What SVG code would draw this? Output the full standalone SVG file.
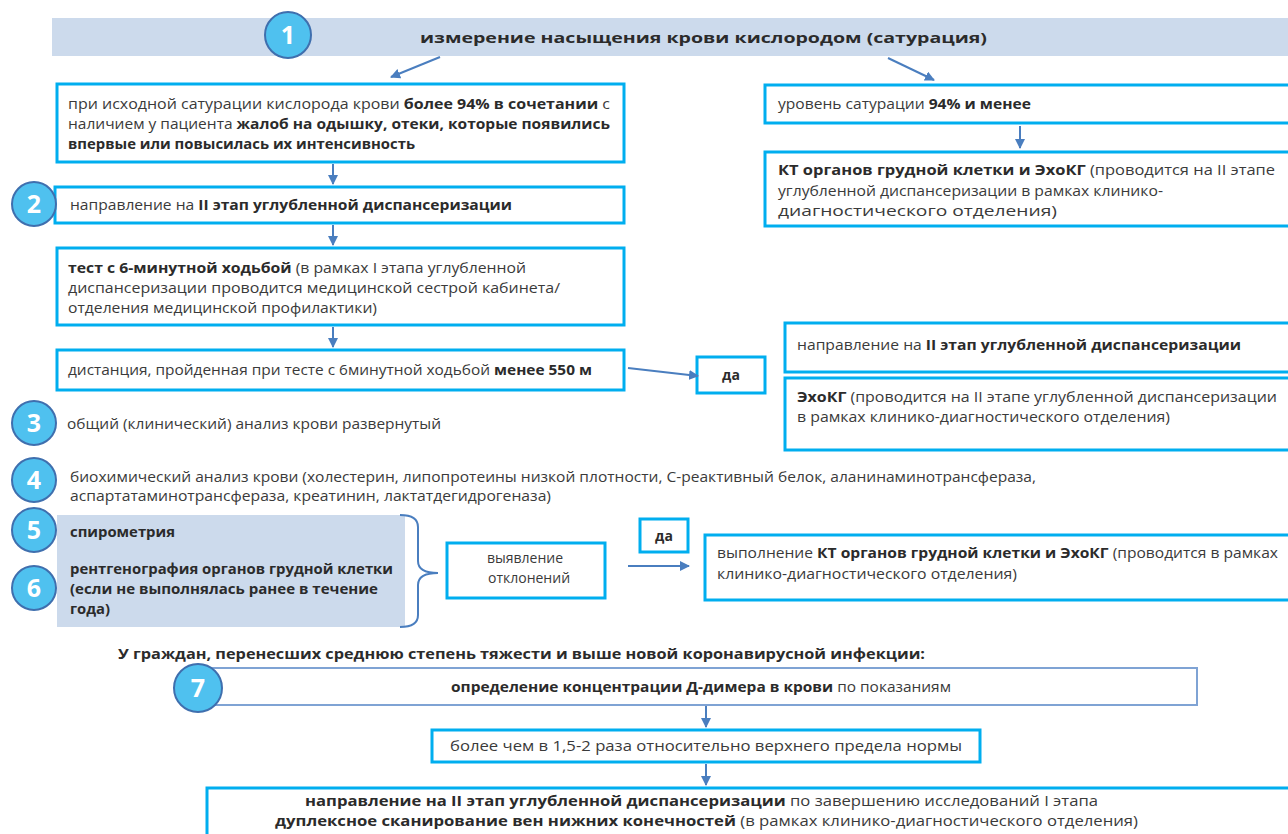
<svg xmlns="http://www.w3.org/2000/svg" width="1288" height="834" viewBox="0 0 1288 834">
<style>
text{font-family:"Open Sans","Noto Sans","Liberation Sans",sans-serif;font-size:14px;fill:#3a3a3a}
.b{font-weight:700;fill:#2b2b2b}
.box{fill:#fff;stroke:#00aeef;stroke-width:3}
.box7{fill:#fff;stroke:#7fa3d4;stroke-width:2}
.shade{fill:#ccdaec}
.circ{fill:#4fc1ef;stroke:#3f6fae;stroke-width:2}
.num{font-family:"Open Sans","Liberation Sans",sans-serif;font-weight:700;font-size:25px;fill:#fff;text-anchor:middle}
.con{stroke:#4a7ebf;stroke-width:2;fill:none}
.c{text-anchor:middle}
</style>
<defs>
<marker id="ah" viewBox="0 0 10 10" refX="9" refY="5" markerWidth="5" markerHeight="5" orient="auto" markerUnits="strokeWidth">
<path d="M0,0 L10,5 L0,10 z" fill="#4a7ebf"/>
</marker>
</defs>

<g id="header">
<rect class="shade" x="52" y="18" width="1236" height="38"/>
<text class="b" x="420" y="43" font-size="18" textLength="567" lengthAdjust="spacingAndGlyphs">измерение насыщения крови кислородом (сатурация)</text>
</g>
<g id="n1"><circle class="circ" cx="288" cy="35" r="23"/><text class="num" x="288" y="44">1</text></g>

<g id="boxA">
<rect class="box" x="57" y="84" width="567" height="78"/>
<text x="68" y="109" textLength="542" lengthAdjust="spacingAndGlyphs">при исходной сатурации кислорода крови <tspan class="b">более 94% в сочетании</tspan> с</text>
<text x="68" y="129" textLength="542" lengthAdjust="spacingAndGlyphs">наличием у пациента <tspan class="b">жалоб на одышку, отеки, которые появились</tspan></text>
<text class="b" x="68" y="149" textLength="347" lengthAdjust="spacingAndGlyphs">впервые или повысилась их интенсивность</text>
</g>

<g id="box2">
<rect class="box" x="55" y="187" width="569" height="36"/>
<text x="70" y="210" textLength="442" lengthAdjust="spacingAndGlyphs">направление на <tspan class="b">II этап углубленной диспансеризации</tspan></text>
</g>
<g id="n2"><circle class="circ" cx="34" cy="204" r="22"/><text class="num" x="34" y="213">2</text></g>

<g id="boxTest">
<rect class="box" x="57" y="248" width="567" height="77"/>
<text x="68" y="273" textLength="458" lengthAdjust="spacingAndGlyphs"><tspan class="b">тест с 6-минутной ходьбой</tspan> (в рамках I этапа углубленной</text>
<text x="68" y="293" textLength="492" lengthAdjust="spacingAndGlyphs">диспансеризации проводится медицинской сестрой кабинета/</text>
<text x="68" y="313" textLength="309" lengthAdjust="spacingAndGlyphs">отделения медицинской профилактики)</text>
</g>

<g id="boxDist">
<rect class="box" x="57" y="350" width="567" height="40"/>
<text x="68" y="375" textLength="524" lengthAdjust="spacingAndGlyphs">дистанция, пройденная при тесте с 6минутной ходьбой <tspan class="b">менее 550 м</tspan></text>
</g>

<g id="da1">
<rect class="box" x="697" y="357" width="68" height="36"/>
<text class="b c" x="731" y="380">да</text>
</g>

<g id="boxSat">
<rect class="box" x="765" y="85" width="530" height="38"/>
<text x="778" y="109" textLength="253" lengthAdjust="spacingAndGlyphs">уровень сатурации <tspan class="b">94% и менее</tspan></text>
</g>

<g id="boxKT">
<rect class="box" x="765" y="152" width="530" height="74"/>
<text x="778" y="175" textLength="497" lengthAdjust="spacingAndGlyphs"><tspan class="b">КТ органов грудной клетки и ЭхоКГ</tspan> (проводится на II этапе</text>
<text x="778" y="196" textLength="385" lengthAdjust="spacingAndGlyphs">углубленной диспансеризации в рамках клинико-</text>
<text x="778" y="216" textLength="279" lengthAdjust="spacingAndGlyphs">диагностического отделения)</text>
</g>

<g id="boxNapr2">
<rect class="box" x="785" y="323" width="510" height="49"/>
<text x="797" y="350" textLength="444" lengthAdjust="spacingAndGlyphs">направление на <tspan class="b">II этап углубленной диспансеризации</tspan></text>
</g>

<g id="boxEcho">
<rect class="box" x="785" y="378" width="510" height="72"/>
<text x="797" y="402" textLength="480" lengthAdjust="spacingAndGlyphs"><tspan class="b">ЭхоКГ</tspan> (проводится на II этапе углубленной диспансеризации</text>
<text x="797" y="422" textLength="373" lengthAdjust="spacingAndGlyphs">в рамках клинико-диагностического отделения)</text>
</g>

<g id="n3"><circle class="circ" cx="34" cy="423" r="22"/><text class="num" x="34" y="432">3</text>
<text x="67" y="429" textLength="374" lengthAdjust="spacingAndGlyphs">общий (клинический) анализ крови развернутый</text></g>

<g id="n4"><circle class="circ" cx="34" cy="480" r="22"/><text class="num" x="34" y="489">4</text>
<text x="70" y="482" textLength="966" lengthAdjust="spacingAndGlyphs">биохимический анализ крови (холестерин, липопротеины низкой плотности, С-реактивный белок, аланинаминотрансфераза,</text>
<text x="70" y="501" textLength="481" lengthAdjust="spacingAndGlyphs">аспартатаминотрансфераза, креатинин, лактатдегидрогеназа)</text></g>

<g id="group56">
<rect class="shade" x="57" y="515" width="348" height="112"/>
<text class="b" x="70" y="537" textLength="105" lengthAdjust="spacingAndGlyphs">спирометрия</text>
<text class="b" x="70" y="574" textLength="323" lengthAdjust="spacingAndGlyphs">рентгенография органов грудной клетки</text>
<text class="b" x="70" y="594" textLength="308" lengthAdjust="spacingAndGlyphs">(если не выполнялась ранее в течение</text>
<text class="b" x="70" y="614" textLength="40" lengthAdjust="spacingAndGlyphs">года)</text>
</g>
<g id="n5"><circle class="circ" cx="34" cy="530" r="22"/><text class="num" x="34" y="539">5</text></g>
<g id="n6"><circle class="circ" cx="34" cy="588" r="22"/><text class="num" x="34" y="597">6</text></g>

<g id="boxDev">
<rect class="box" x="447" y="543" width="158" height="55"/>
<text class="c" x="525" y="563">выявление</text>
<text class="c" x="529" y="583">отклонений</text>
</g>

<g id="da2">
<rect class="box" x="640" y="519" width="48" height="33"/>
<text class="b c" x="664" y="541">да</text>
</g>

<g id="boxKT2">
<rect class="box" x="705" y="535" width="590" height="65"/>
<text x="717" y="558" textLength="561" lengthAdjust="spacingAndGlyphs">выполнение <tspan class="b">КТ органов грудной клетки и ЭхоКГ</tspan> (проводится в рамках</text>
<text x="717" y="579" textLength="300" lengthAdjust="spacingAndGlyphs">клинико-диагностического отделения)</text>
</g>

<g id="heading">
<text class="b" x="118" y="659" textLength="807" lengthAdjust="spacingAndGlyphs">У граждан, перенесших среднюю степень тяжести и выше новой коронавирусной инфекции:</text>
</g>

<g id="box7">
<rect class="box7" x="200" y="668" width="997" height="37"/>
<text x="451" y="692" textLength="500" lengthAdjust="spacingAndGlyphs"><tspan class="b">определение концентрации Д-димера в крови</tspan> по показаниям</text>
</g>
<g id="n7"><circle class="circ" cx="198" cy="688" r="24"/><text class="num" x="198" y="697">7</text></g>

<g id="boxNorm">
<rect class="box" x="432" y="730" width="548" height="32"/>
<text x="450" y="751" textLength="512" lengthAdjust="spacingAndGlyphs">более чем в 1,5-2 раза относительно верхнего предела нормы</text>
</g>

<g id="boxFinal">
<rect class="box" x="207" y="788" width="1090" height="60"/>
<text x="305" y="806" textLength="793" lengthAdjust="spacingAndGlyphs"><tspan class="b">направление на II этап углубленной диспансеризации</tspan>  по завершению исследований I этапа</text>
<text x="275" y="826" textLength="863" lengthAdjust="spacingAndGlyphs"><tspan class="b">дуплексное сканирование вен нижних конечностей</tspan> (в рамках клинико-диагностического отделения)</text>
</g>

<g id="connectors">
<line class="con" x1="440" y1="57" x2="391" y2="77" marker-end="url(#ah)"/>
<line class="con" x1="888" y1="58" x2="934" y2="80" marker-end="url(#ah)"/>
<line class="con" x1="333" y1="164" x2="333" y2="184" marker-end="url(#ah)"/>
<line class="con" x1="333" y1="225" x2="333" y2="245" marker-end="url(#ah)"/>
<line class="con" x1="333" y1="327" x2="333" y2="347" marker-end="url(#ah)"/>
<line class="con" x1="628" y1="368" x2="698" y2="376" marker-end="url(#ah)"/>
<line class="con" x1="1020" y1="126" x2="1020" y2="148" marker-end="url(#ah)"/>
<path class="con" d="M400,515 Q418,515 418,527 L418,561 Q418,573 438,573 Q418,573 418,585 L418,615 Q418,627 400,627"/>
<line class="con" x1="628" y1="566" x2="689" y2="566" marker-end="url(#ah)"/>
<line class="con" x1="706" y1="706" x2="706" y2="727" marker-end="url(#ah)"/>
<line class="con" x1="706" y1="764" x2="706" y2="785" marker-end="url(#ah)"/>
</g>
</svg>
